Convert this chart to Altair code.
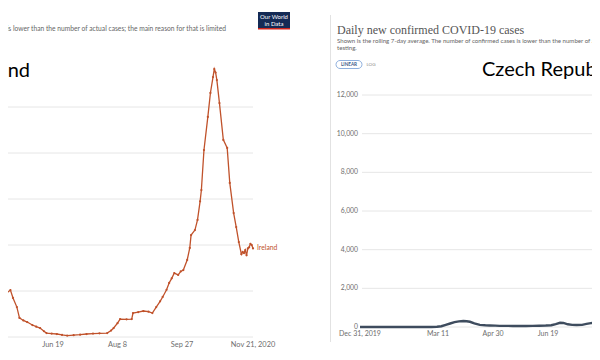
import altair as alt
import pandas as pd

# ---------------- data ----------------
ie_dates = ["2020-05-09", "2020-05-12", "2020-05-14", "2020-05-17", "2020-05-19", "2020-05-22",
            "2020-05-24", "2020-05-27", "2020-05-30", "2020-06-03", "2020-06-06", "2020-06-09",
            "2020-06-12", "2020-06-14", "2020-06-18", "2020-06-22", "2020-06-26", "2020-06-30",
            "2020-07-05", "2020-07-10", "2020-07-15", "2020-07-20", "2020-07-25", "2020-07-31",
            "2020-08-03", "2020-08-05", "2020-08-08", "2020-08-10", "2020-08-15", "2020-08-19",
            "2020-08-20", "2020-08-24", "2020-08-28", "2020-09-01", "2020-09-04", "2020-09-07",
            "2020-09-10", "2020-09-12", "2020-09-15", "2020-09-17", "2020-09-19", "2020-09-21",
            "2020-09-24", "2020-09-26", "2020-09-28", "2020-10-01", "2020-10-03", "2020-10-04",
            "2020-10-07", "2020-10-09", "2020-10-11", "2020-10-12", "2020-10-14", "2020-10-17",
            "2020-10-19", "2020-10-21", "2020-10-22", "2020-10-23", "2020-10-24", "2020-10-26",
            "2020-10-29", "2020-11-01", "2020-11-03", "2020-11-06", "2020-11-08", "2020-11-10",
            "2020-11-12", "2020-11-13", "2020-11-14", "2020-11-15", "2020-11-16", "2020-11-17",
            "2020-11-18", "2020-11-19", "2020-11-20", "2020-11-21"]
ie_cases = [291, 248, 191, 204, 170, 130,
            83, 72, 65, 52, 45, 39,
            25, 17, 15, 13, 9, 6,
            8, 10, 13, 15, 16, 17,
            28, 39, 60, 78, 77, 78,
            104, 108, 113, 110, 104, 130,
            155, 174, 205, 235, 255, 278,
            270, 285, 291, 335, 387, 443,
            465, 509, 590, 639, 813, 957,
            1061, 1130, 1165, 1150, 1117, 1017,
            857, 822, 670, 539, 478, 413,
            360, 370, 365, 378, 355, 385,
            390, 405, 400, 385]

cz_dates = ["2019-12-31", "2020-01-20", "2020-02-10", "2020-03-01", "2020-03-05", "2020-03-10",
            "2020-03-14", "2020-03-18", "2020-03-22", "2020-03-26", "2020-03-30", "2020-04-03",
            "2020-04-06", "2020-04-09", "2020-04-13", "2020-04-18", "2020-04-23", "2020-04-27",
            "2020-05-02", "2020-05-06", "2020-05-12", "2020-05-18", "2020-05-24", "2020-05-30",
            "2020-06-05", "2020-06-11", "2020-06-17", "2020-06-22", "2020-06-26", "2020-06-30",
            "2020-07-03", "2020-07-07", "2020-07-11", "2020-07-15", "2020-07-20", "2020-07-24",
            "2020-07-28", "2020-08-01", "2020-08-05", "2020-08-09"]
cz_cases = [0, 0, 0, 0, 2, 10,
            40, 110, 180, 250, 290, 310,
            300, 270, 190, 110, 90, 80,
            70, 60, 60, 55, 60, 55,
            60, 65, 75, 90, 150, 220,
            210, 140, 110, 100, 110, 160,
            200, 215, 220, 210]

ie_grid = [0, 200, 400, 600, 800, 1000]
cz_grid = [0, 2000, 4000, 6000, 8000, 10000, 12000]
ie_ticks = ["2020-06-19", "2020-08-08", "2020-09-27", "2020-11-21"]
ie_tick_labels = ["Jun 19", "Aug 8", "Sep 27", "Nov 21, 2020"]
cz_ticks = ["2019-12-31", "2020-03-11", "2020-04-30", "2020-06-19", "2020-08-08"]
cz_tick_labels = ["Dec 31, 2019", "Mar 11", "Apr 30", "Jun 19", "Aug 8"]

# ---------------- layout / style ----------------
W, H = 584, 341
IE_C = "#c0522b"
CZ_C = "#3e4c5e"
GRID_C = "#e6e6e6"
LABEL_C = "#6e6e6e"

ie_df = pd.DataFrame({"date": ie_dates, "cases": ie_cases})
cz_df = pd.DataFrame({"date": cz_dates, "cases": cz_cases})
one = pd.DataFrame({"a": [0]})

# scales (pixel ranges place each screenshot panel inside the single canvas)
ie_x = alt.Scale(type="utc", domain=["2020-06-19", "2020-11-21"], range=[45, 245])
ie_y = alt.Scale(domain=[0, 1000], range=[329, 99], nice=False, zero=False)
cz_x = alt.Scale(type="utc", domain=["2019-12-31", "2020-06-19"], range=[352, 540])
cz_y = alt.Scale(domain=[0, 12000], range=[319, 87], nice=False, zero=False)


def txt(text, x, y, size, color="#555", font="Lato", align="left", baseline="middle", weight="normal"):
    return alt.Chart(pd.DataFrame({"t": [text]})).mark_text(
        align=align, baseline=baseline, fontSize=size, font=font, color=color,
        fontWeight=weight, clip=True
    ).encode(x=alt.value(x), y=alt.value(y), text="t:N")


def box(x, x2, y, y2, **kw):
    return alt.Chart(one).mark_rect(**kw).encode(
        x=alt.value(x), x2=alt.value(x2), y=alt.value(y), y2=alt.value(y2))


# ---------------- Ireland screenshot ----------------
ie_xe = alt.X("date:T", scale=ie_x, axis=None)
ie_ye = alt.Y("cases:Q", scale=ie_y, axis=None)

ie_gridlines = alt.Chart(pd.DataFrame({"v": ie_grid})).mark_rule(color=GRID_C, strokeWidth=1).encode(
    y=alt.Y("v:Q", scale=ie_y, axis=None), x=alt.value(0), x2=alt.value(245))
ie_xlabels = alt.Chart(pd.DataFrame({"date": ie_ticks, "lab": ie_tick_labels})).mark_text(
    align="center", baseline="middle", fontSize=7.4, font="Lato", color=LABEL_C, clip=True).encode(
    x=ie_xe, y=alt.value(336.5), text="lab:N")
ie_line = alt.Chart(ie_df).mark_line(color=IE_C, strokeWidth=1.3, clip=True).encode(x=ie_xe, y=ie_ye)
ie_pts = alt.Chart(ie_df).mark_point(color=IE_C, filled=True, size=5, opacity=1, clip=True).encode(
    x=ie_xe, y=ie_ye)
ie_label = alt.Chart(ie_df.tail(1).assign(name="Ireland")).mark_text(
    align="left", dx=4, fontSize=6.8, font="Lato", color=IE_C, clip=True).encode(
    x=ie_xe, y=ie_ye, text="name:N")

ie_layer = alt.layer(
    ie_gridlines, ie_xlabels,
    txt("Daily new confirmed COVID-19 cases", -2, 9, 13, color="#555", font="Liberation Serif", align="right"),
    txt("Shown is the rolling 7-day average. The number of confirmed cases is lower than the number of actual cases; the main reason for that is limited",
        218, 21, 6.7, color="#666", align="right"),
    box(250, 282, 4, 21, color="#142a55"),
    box(250, 282, 20, 21.5, color="#ce261e"),
    txt("Our World", 266, 9, 6, color="white", align="center"),
    txt("in Data", 266, 15.5, 6, color="white", align="center"),
    txt("Ireland", 22, 69, 20, color="black", align="right", baseline="alphabetic"),
    ie_line, ie_pts, ie_label,
)

# ---------------- Czech screenshot ----------------
cz_xe = alt.X("date:T", scale=cz_x, axis=None)
cz_ye = alt.Y("cases:Q", scale=cz_y, axis=None)

cz_grid_df = pd.DataFrame({"v": cz_grid})
cz_gridlines = alt.Chart(cz_grid_df).mark_rule(color=GRID_C, strokeWidth=1).encode(
    y=alt.Y("v:Q", scale=cz_y, axis=None), x=alt.value(354), x2=alt.value(W))
cz_ylabels = alt.Chart(cz_grid_df).mark_text(
    align="right", baseline="middle", fontSize=6.8, font="Lato", color=LABEL_C, clip=True).encode(
    y=alt.Y("v:Q", scale=cz_y, axis=None), x=alt.value(350), text=alt.Text("v:Q", format=","))
cz_xlabels = alt.Chart(pd.DataFrame({"date": cz_ticks, "lab": cz_tick_labels})).mark_text(
    align="center", baseline="middle", fontSize=7, font="Lato", color=LABEL_C, clip=True).encode(
    x=cz_xe, y=alt.value(326), text="lab:N")
cz_line = alt.Chart(cz_df).mark_line(color=CZ_C, strokeWidth=2.4, clip=True).encode(x=cz_xe, y=cz_ye)
border = alt.Chart(one).mark_rule(color="#e2e2e2", strokeWidth=1).encode(
    x=alt.value(322.5), y=alt.value(7), y2=alt.value(334))

cz_layer = alt.layer(
    border, cz_gridlines, cz_ylabels, cz_xlabels,
    txt("Daily new confirmed COVID-19 cases", 329, 22, 12, color="#555", font="Liberation Serif"),
    txt("Shown is the rolling 7-day average. The number of confirmed cases is lower than the number of actual cases; the main reason for that is limited",
        329, 33, 6.1, color="#666"),
    txt("testing.", 329, 40, 6.1, color="#666"),
    alt.Chart(one).mark_rect(fill="white", stroke="#8fb0de", strokeWidth=1, cornerRadius=4).encode(
        x=alt.value(328), x2=alt.value(354), y=alt.value(52.5), y2=alt.value(60.5)),
    txt("LINEAR", 341, 56.5, 4.6, color="#3b5a8a", align="center", weight="bold"),
    txt("LOG", 363, 56.5, 4.6, color="#8a8a8a", align="center"),
    txt("Czech Republic", 474, 68, 20, color="black", baseline="alphabetic"),
    cz_line,
)

chart = alt.layer(ie_layer, cz_layer).resolve_scale(
    x="independent", y="independent"
).properties(
    width=W, height=H, padding=0, background="white",
    autosize=alt.AutoSizeParams(type="none"),
).configure_view(stroke=None)

chart.save("out.html", embed_options={"renderer": "svg", "actions": False})
